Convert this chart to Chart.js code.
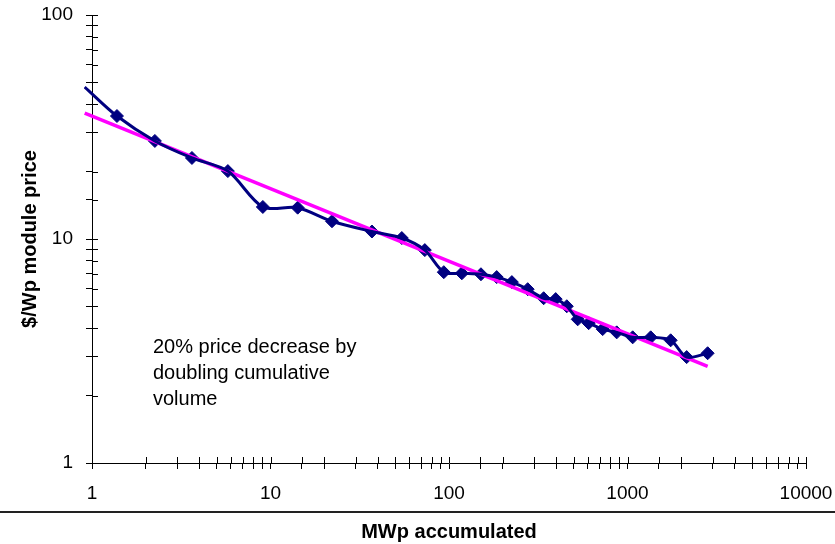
<!DOCTYPE html>
<html>
<head>
<meta charset="utf-8">
<script src="https://cdn.jsdelivr.net/npm/chart.js@4.4.1/dist/chart.umd.min.js"></script>
<style>
  html, body { margin: 0; padding: 0; background: #fff; }
  #wrap { width: 835px; height: 544px; position: relative; }
</style>
</head>
<body>
<div id="wrap"><canvas id="chart"></canvas></div>
<script>
// cumulative volume (MWp) and module price ($/Wp)
const mwp = [0.91, 1.38, 2.25, 3.63, 5.77, 9.06, 14.2, 22.1, 37.0, 54.4, 73.2, 93.5, 118, 151, 185,
             225, 276, 339, 396, 457, 526, 606, 726, 870, 1069, 1349, 1745, 2145, 2812];
const price = [47.7, 35.4, 27.4, 23.0, 20.1, 13.9, 13.8, 12.0, 10.8, 10.1, 8.92, 7.11, 7.03, 6.96, 6.76,
               6.42, 5.97, 5.44, 5.39, 5.01, 4.38, 4.21, 3.96, 3.83, 3.64, 3.64, 3.53, 2.97, 3.09];

// fitted learning curve, two end points
const trendX = [0.91, 2812];
const trendY = [36.5, 2.7];

const xTicks = [1, 10, 100, 1000, 10000];
const yTicks = [1, 10, 100];

const noteLines = ['20% price decrease by', 'doubling cumulative', 'volume'];

const FONT = '"Liberation Sans", Arial, sans-serif';
const NAVY = '#000080';
const MAGENTA = '#ff00ff';

const toXY = (xs, ys) => xs.map((x, i) => ({ x: x, y: ys[i] }));

// crossing tick marks, separator line and note text
const extras = {
    id: 'extras',
    afterDraw(chart) {
        const ctx = chart.ctx;
        const xs = chart.scales.x, ys = chart.scales.y;
        const area = chart.chartArea;
        ctx.save();
        ctx.strokeStyle = '#000';
        ctx.lineWidth = 1;
        ctx.beginPath();
        xs.ticks.forEach(t => {
            const px = Math.round(xs.getPixelForValue(t.value)) + 0.5;
            ctx.moveTo(px, area.bottom);
            ctx.lineTo(px, area.bottom - 6);
        });
        ys.ticks.forEach(t => {
            const py = Math.round(ys.getPixelForValue(t.value)) + 0.5;
            ctx.moveTo(area.left, py);
            ctx.lineTo(area.left + 6, py);
        });
        ctx.stroke();

        ctx.fillStyle = '#222';
        ctx.fillRect(0, 511, chart.width, 2);

        ctx.fillStyle = '#000';
        ctx.font = '20px ' + FONT;
        ctx.textAlign = 'left';
        ctx.textBaseline = 'alphabetic';
        noteLines.forEach((line, i) => ctx.fillText(line, 153, 353 + i * 26));
        ctx.restore();
    }
};

function axisOptions(min, max, labels) {
    return {
        type: 'logarithmic',
        min: min,
        max: max,
        grid: {
            display: true,
            drawOnChartArea: false,
            drawTicks: true,
            tickLength: 6,
            color: '#000',
            lineWidth: 1
        },
        border: { display: true, color: '#000', width: 1 },
        ticks: {
            autoSkip: false,
            maxRotation: 0,
            padding: 13,
            color: '#000',
            font: { family: FONT, size: 19 },
            callback: v => labels.includes(v) ? String(v) : ''
        }
    };
}

// fixed axis sizes, no extra padding for overhanging labels
function fixSize(s, w, h) {
    if (w) s.width = w;
    if (h) s.height = h;
    s.paddingLeft = s.paddingRight = s.paddingTop = s.paddingBottom = 0;
}

const xAxis = axisOptions(1, 10000, xTicks);
xAxis.title = {
    display: true,
    text: 'MWp accumulated',
    color: '#000',
    font: { family: FONT, size: 20, weight: 'bold' },
    padding: { top: 0, bottom: 0 }
};
xAxis.afterFit = s => fixSize(s, 0, 81);

const yAxis = axisOptions(1, 100, yTicks);
yAxis.title = {
    display: true,
    text: '$/Wp module price',
    color: '#000',
    font: { family: FONT, size: 20, weight: 'bold' },
    padding: { top: 18, bottom: 0 }
};
yAxis.afterFit = s => fixSize(s, 92, 0);

new Chart(document.getElementById('chart'), {
    type: 'line',
    data: {
        datasets: [
            {
                // navy price curve (line only)
                data: toXY(mwp, price),
                borderColor: NAVY,
                borderWidth: 3,
                tension: 0.3,
                pointRadius: 0,
                fill: false,
                clip: { left: 8, top: 0, right: 0, bottom: 0 }
            },
            {
                // magenta trend line
                data: toXY(trendX, trendY),
                borderColor: MAGENTA,
                borderWidth: 3.5,
                pointRadius: 0,
                fill: false,
                clip: { left: 8, top: 0, right: 0, bottom: 0 }
            },
            {
                // navy diamond markers on top
                data: toXY(mwp, price),
                showLine: false,
                pointStyle: 'rectRot',
                pointRadius: ctx => ctx.dataIndex === 0 ? 0 : 6.5,
                pointBackgroundColor: NAVY,
                pointBorderColor: NAVY,
                pointBorderWidth: 1
            }
        ]
    },
    options: {
        responsive: true,
        maintainAspectRatio: false,
        animation: false,
        layout: { padding: { left: 0, right: 29, top: 15, bottom: 0 } },
        plugins: {
            legend: { display: false },
            tooltip: { enabled: false }
        },
        scales: { x: xAxis, y: yAxis }
    },
    plugins: [extras]
});
</script>
</body>
</html>
